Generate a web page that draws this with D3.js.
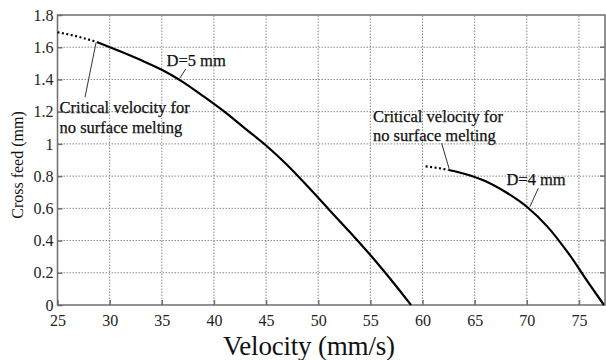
<!DOCTYPE html>
<html>
<head>
<meta charset="utf-8">
<script src="https://cdn.jsdelivr.net/npm/d3@7"></script>
<style>
  body { margin: 0; background: #fff; }
  svg text { font-family: "Liberation Serif", "Times New Roman", serif; fill: #111; }
</style>
</head>
<body>
<div id="chart"></div>
<script>
// axis ticks
const xTicks = [25, 30, 35, 40, 45, 50, 55, 60, 65, 70, 75];
const yTicks = [0, 0.2, 0.4, 0.6, 0.8, 1, 1.2, 1.4, 1.6, 1.8];
const yTickLabels = ["0", "0.2", "0.4", "0.6", "0.8", "1", "1.2", "1.4", "1.6", "1.8"];

// D = 5 mm curve (velocity, cross feed)
const d5Dotted = [[25, 1.693], [27, 1.665], [28.8, 1.632]];
const d5Solid = [[28.8, 1.632], [31, 1.575], [33, 1.52], [35, 1.46], [37, 1.385], [39, 1.295],
  [41, 1.2], [43, 1.095], [45, 0.99], [47, 0.87], [49, 0.735], [51, 0.595], [53, 0.455],
  [55, 0.31], [57, 0.155], [58.9, 0]];

// D = 4 mm curve
const d4Dotted = [[60.3, 0.86], [61.5, 0.85], [62.5, 0.838]];
const d4Solid = [[62.5, 0.838], [64, 0.815], [66, 0.77], [68, 0.7], [70, 0.61], [72, 0.485],
  [74, 0.32], [76, 0.13], [77.4, 0]];

const width = 606, height = 360;
const margin = {top: 15, right: 1, bottom: 55, left: 57.5};
const serif = '"Liberation Serif", "Times New Roman", serif';

const svg = d3.select('#chart').append('svg')
  .attr('width', width)
  .attr('height', height)
  .attr('font-family', serif);

const x = d3.scaleLinear().domain([25, 77.5]).range([margin.left, width - margin.right]);
const y = d3.scaleLinear().domain([0, 1.8]).range([height - margin.bottom, margin.top]);

// grid
svg.append('g').selectAll('line.gx')
  .data(xTicks.slice(1))
  .enter().append('line')
  .attr('x1', d => x(d)).attr('x2', d => x(d))
  .attr('y1', y(0)).attr('y2', y(1.8))
  .style('stroke', '#8a8a8a').style('stroke-width', 1).style('stroke-dasharray', '1.5,1.5');
svg.append('g').selectAll('line.gy')
  .data(yTicks.slice(1, -1))
  .enter().append('line')
  .attr('x1', x(25)).attr('x2', x(77.5))
  .attr('y1', d => y(d)).attr('y2', d => y(d))
  .style('stroke', '#8a8a8a').style('stroke-width', 1).style('stroke-dasharray', '1.5,1.5');

// frame
svg.append('rect')
  .attr('x', x(25)).attr('y', y(1.8))
  .attr('width', x(77.5) - x(25)).attr('height', y(0) - y(1.8))
  .style('fill', 'none').style('stroke', '#6e6e6e').style('stroke-width', 1.5);

// axes (ticks inside)
const xAxis = d3.axisBottom(x).tickValues(xTicks).tickSizeInner(-5).tickSizeOuter(0).tickPadding(10);
const yAxis = d3.axisLeft(y).tickValues(yTicks).tickSizeInner(-5).tickSizeOuter(0).tickPadding(4)
  .tickFormat((d, i) => yTickLabels[i]);

const gx = svg.append('g').attr('transform', `translate(0,${y(0)})`).call(xAxis);
const gy = svg.append('g').attr('transform', `translate(${x(25)},0)`).call(yAxis);
[gx, gy].forEach(g => {
  g.attr('font-family', serif).attr('font-size', 16);
  g.select('.domain').remove();
  g.selectAll('line').style('stroke', '#6e6e6e').style('stroke-width', 1.5);
  g.selectAll('text').style('font-family', serif).style('font-size', '16px').style('fill', '#222');
});
// the right-hand ticks, as in the original frame
svg.append('g').selectAll('line')
  .data(yTicks.slice(1, -1))
  .enter().append('line')
  .attr('x1', x(77.5)).attr('x2', x(77.5) - 5)
  .attr('y1', d => y(d)).attr('y2', d => y(d))
  .style('stroke', '#6e6e6e').style('stroke-width', 1.5);

// curves
const line = d3.line().x(d => x(d[0])).y(d => y(d[1])).curve(d3.curveMonotoneX);

[d5Solid, d4Solid].forEach(pts => {
  svg.append('path').datum(pts).attr('d', line)
    .style('fill', 'none').style('stroke', '#000').style('stroke-width', 2.2);
});
[d5Dotted, d4Dotted].forEach(pts => {
  svg.append('path').datum(pts).attr('d', line)
    .style('fill', 'none').style('stroke', '#000').style('stroke-width', 2.2)
    .style('stroke-dasharray', '2,2.5');
});

// annotations
function label(lines, vx, fy, size) {
  const t = svg.append('text').attr('x', x(vx)).attr('y', y(fy))
    .style('font-size', size + 'px')
    .style('stroke', '#111').style('stroke-width', 0.25);
  lines.forEach((s, i) => {
    t.append('tspan').attr('x', x(vx)).attr('dy', i === 0 ? 0 : 19.5).text(s);
  });
}
function leader(a, b) {
  svg.append('line')
    .attr('x1', x(a[0])).attr('y1', y(a[1]))
    .attr('x2', x(b[0])).attr('y2', y(b[1]))
    .style('stroke', '#333').style('stroke-width', 1);
}

label(['Critical velocity for', 'no surface melting'], 25.2, 1.19, 16.5);
leader([27.64, 1.29], [28.7, 1.63]);
label(['D=5 mm'], 35.45, 1.484, 16.5);
leader([36.7, 1.405], [37.3, 1.465]);

label(['Critical velocity for', 'no surface melting'], 55.25, 1.136, 16.5);
leader([61.83, 1.004], [62.56, 0.845]);
label(['D=4 mm'], 68.05, 0.745, 16.5);
leader([70.3, 0.61], [71.1, 0.724]);

// axis titles
svg.append('text')
  .attr('x', 309).attr('y', 355)
  .attr('text-anchor', 'middle')
  .attr('textLength', 172)
  .style('font-size', '27px')
  .text('Velocity (mm/s)');

svg.append('text')
  .attr('transform', `translate(23,165) rotate(-90)`)
  .attr('text-anchor', 'middle')
  .style('font-size', '16px')
  .text('Cross feed (mm)');
</script>
</body>
</html>
